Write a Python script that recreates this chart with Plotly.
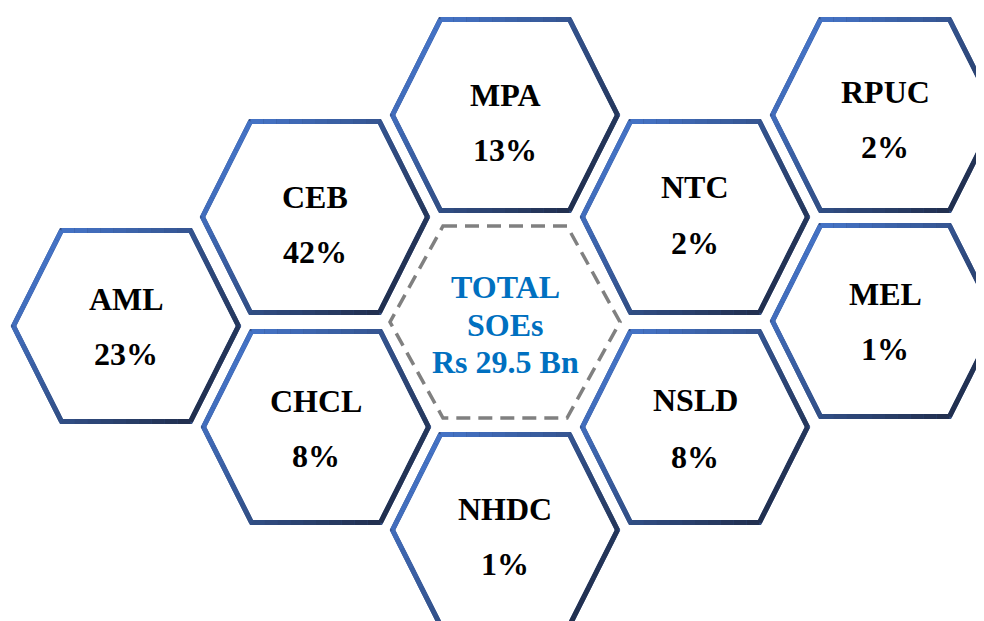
import plotly.graph_objects as go

# ---- data ----
companies = ["AML", "CEB", "CHCL", "MPA", "NHDC", "NTC", "NSLD", "RPUC", "MEL"]
shares_pct = [23, 42, 8, 13, 1, 2, 8, 2, 1]
total_lines = ["TOTAL", "SOEs", "Rs 29.5 Bn"]

# ---- layout (hexagon centres in page pixels) ----
centre_x = [126, 315, 316, 505, 505, 695, 695, 885, 885]
centre_y = [326, 217, 427, 115, 530, 217, 427, 115, 321]
label_dy = [-27, -20, -26, -20, -21, -30, -27, -23, -27]
pct_dy = [28, 35, 29, 35, 34, 26, 30, 32, 28]
total_centre = (505, 322)

W, T, H = 112.5, 64.5, 95.5
LIGHT = (68, 114, 196)
DARK = (33, 47, 78)
LW = 5
NSEG = 10
OFF = 8  # page body margin compensation


def hex_pts(cx, cy, w, t, h):
    return [(cx - t, cy - h), (cx + t, cy - h), (cx + w, cy), (cx + t, cy + h),
            (cx - t, cy + h), (cx - w, cy)]


def col(tv):
    tv = max(0.0, min(1.0, tv))
    r = [round(LIGHT[i] + (DARK[i] - LIGHT[i]) * tv) for i in range(3)]
    return f"rgb({r[0]},{r[1]},{r[2]})"


shapes = []
for cx, cy in zip(centre_x, centre_y):
    pts = hex_pts(cx, cy, W, T, H)
    path = "M " + " L ".join(f"{x},{y}" for x, y in pts) + " Z"
    shapes.append(dict(type="path", path=path, xref="x", yref="y",
                       line=dict(color=col(0.5), width=LW), fillcolor="white", layer="above"))
    x0, y0 = cx - W, cy - H
    span = 2 * W * 0.55 + 2 * H * 0.45
    for k in range(6):
        ax, ay = pts[k]
        bx, by = pts[(k + 1) % 6]
        for s in range(NSEG):
            f0 = s / NSEG
            f1 = (s + 1) / NSEG
            sx0, sy0 = ax + (bx - ax) * f0, ay + (by - ay) * f0
            sx1, sy1 = ax + (bx - ax) * f1, ay + (by - ay) * f1
            mx, my = (sx0 + sx1) / 2, (sy0 + sy1) / 2
            tv = ((mx - x0) * 0.55 + (my - y0) * 0.45) / span
            tv = (tv - 0.15) / 0.72
            shapes.append(dict(type="line", xref="x", yref="y", x0=sx0, y0=sy0, x1=sx1, y1=sy1,
                               line=dict(color=col(tv), width=LW), layer="above"))

# dashed centre hexagon
tp = hex_pts(total_centre[0], total_centre[1], 115, 62, 96)
shapes.append(dict(type="path", xref="x", yref="y",
                   path="M " + " L ".join(f"{x},{y}" for x, y in tp) + " Z",
                   line=dict(color="#808080", width=3.5, dash="14px,8px"), layer="above"))

annotations = []
FONT = "Liberation Serif, Times New Roman, serif"
FS = 32
for name, pct, cx, cy, ldy, pdy in zip(companies, shares_pct, centre_x, centre_y, label_dy, pct_dy):
    annotations.append(dict(x=cx, y=cy + ldy, xref="x", yref="y", text=f"<b>{name}</b>",
                            showarrow=False, font=dict(family=FONT, size=FS, color="black")))
    annotations.append(dict(x=cx, y=cy + pdy, xref="x", yref="y", text=f"<b>{pct}%</b>",
                            showarrow=False, font=dict(family=FONT, size=FS, color="black")))

for line, dy in zip(total_lines, [-35, 3, 40]):
    annotations.append(dict(x=total_centre[0], y=total_centre[1] + dy, xref="x", yref="y",
                            text=f"<b>{line}</b>", showarrow=False,
                            font=dict(family=FONT, size=FS, color="#0070C0")))

fig = go.Figure()
fig.add_trace(go.Scatter(x=[OFF, 984], y=[OFF, 621], mode="markers",
                         marker=dict(opacity=0), hoverinfo="skip", showlegend=False))
fig.update_layout(
    width=984 - OFF, height=621 - OFF, margin=dict(l=0, r=0, t=0, b=0),
    paper_bgcolor="white", plot_bgcolor="white",
    xaxis=dict(range=[OFF, 984], visible=False, fixedrange=True),
    yaxis=dict(range=[621, OFF], visible=False, fixedrange=True),
    shapes=shapes, annotations=annotations, showlegend=False,
)
fig.write_html("out.html")
